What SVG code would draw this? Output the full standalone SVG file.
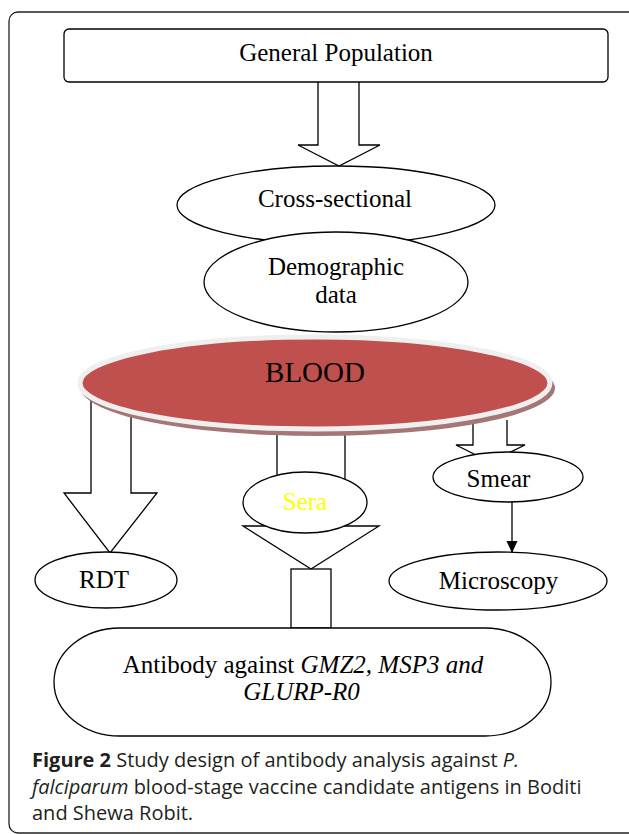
<svg xmlns="http://www.w3.org/2000/svg" width="629" height="834" viewBox="0 0 629 834">
<style>
.n{fill:#fff;stroke:#000;stroke-width:1.3}
.t{font-family:"Liberation Serif","Times New Roman",serif;font-size:25px;fill:#000;text-anchor:middle}
.c{fill:#fff;stroke:#000;stroke-width:1.3}
.cap{font-family:"Open Sans","Noto Sans",sans-serif;font-size:20px;fill:#231f20}
</style>
<rect x="9" y="12" width="640" height="821" rx="9" fill="none" stroke="#222" stroke-width="1.3"/>
<g id="connectors">
<path class="c" d="M318,82 L318,145 L298,145 L339,166 L380,145 L359,145 L359,82"/>
<path class="c" d="M91,400 L91,493 L64,493 L110,553 L157,493 L131,493 L131,400"/>
<path class="c" d="M277,425 L277,475 M345,425 L345,480"/>
<path class="c" d="M243,526 L311,569 L379,526 z"/>
<rect class="c" x="291" y="569" width="40" height="59"/>
<path class="c" d="M473,420 L473,445 L456,445 L490,462 L525,445 L507,445 L507,420"/>
<line x1="512" y1="502" x2="512" y2="552" stroke="#000" stroke-width="1.3"/>
<path d="M506.5,541 L517.5,541 L512,553 z" fill="#000"/>
</g>
<g id="general">
<rect class="n" x="64" y="29" width="544" height="53" rx="5"/>
<text class="t" x="336" y="61">General Population</text>
</g>
<g id="cross">
<ellipse class="n" cx="336" cy="205" rx="159" ry="39"/>
<text class="t" x="335" y="207">Cross-sectional</text>
</g>
<g id="demo">
<ellipse class="n" cx="336" cy="282" rx="132" ry="50"/>
<text class="t" x="336" y="275">Demographic</text>
<text class="t" x="336" y="303">data</text>
</g>
<g id="blood">
<ellipse cx="318" cy="388" rx="237" ry="48" fill="#a47676"/>
<ellipse cx="315" cy="383" rx="235" ry="46" fill="#c0504d" stroke="#efefef" stroke-width="5"/>
<text class="t" x="315" y="382" style="font-size:29px">BLOOD</text>
</g>
<g id="rdt">
<ellipse class="n" cx="106" cy="580" rx="71" ry="28"/>
<text class="t" x="104" y="588">RDT</text>
</g>
<g id="sera">
<ellipse class="n" cx="305" cy="502.5" rx="62" ry="30.5"/>
<text class="t" x="305" y="510" style="fill:#ffff00">Sera</text>
</g>
<g id="smear">
<ellipse class="n" cx="508" cy="477" rx="75" ry="25"/>
<text class="t" x="498.5" y="487">Smear</text>
</g>
<g id="micro">
<ellipse class="n" cx="498" cy="581" rx="109" ry="29"/>
<text class="t" x="498.5" y="589">Microscopy</text>
</g>
<g id="antibody">
<rect class="n" x="54" y="628" width="497" height="108" rx="66" ry="54"/>
<text class="t" x="303" y="673">Antibody against <tspan font-style="italic">GMZ2, MSP3 and</tspan></text>
<text class="t" x="301.5" y="700" font-style="italic">GLURP-R0</text>
</g>
<g id="caption">
<text class="cap" x="32" y="767"><tspan font-weight="bold">Figure 2</tspan> Study design of antibody analysis against <tspan font-style="italic">P.</tspan></text>
<text class="cap" x="32" y="794"><tspan font-style="italic">falciparum</tspan> blood-stage vaccine candidate antigens in Boditi</text>
<text class="cap" x="32" y="820">and Shewa Robit.</text>
</g>
</svg>
